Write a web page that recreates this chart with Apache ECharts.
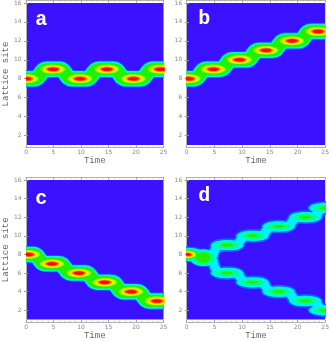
<!DOCTYPE html>
<html>
<head>
<meta charset="utf-8">
<style>html,body{margin:0;padding:0;background:#fff}#main{width:332px;height:341px}</style>
<script src="https://cdn.jsdelivr.net/npm/echarts@6/dist/echarts.min.js"></script>
</head>
<body>
<div id="main"></div>
<script>
// ridge of the wave packet in each panel: [time, lattice site]
var aRidge = [[0,8],[1.5,8],[2.1,8.13],[2.6,8.5],[3.1,8.87],[3.7,9],[6.2,9],[6.7,8.87],[7.2,8.5],[7.7,8.13],[8.3,8],[11.1,8],[11.6,8.13],[12.1,8.5],[12.6,8.87],[13.2,9],[16,9],[16.5,8.87],[17,8.5],[17.5,8.13],[18.1,8],[20.9,8],[21.4,8.13],[21.9,8.5],[22.4,8.87],[23,9],[25,9]];
var bRidge = [[0,8],[1.4,8],[1.9,8.13],[2.4,8.5],[2.9,8.87],[3.5,9],[6,9],[6.6,9.13],[7.1,9.5],[7.6,9.87],[8.2,10],[10.8,10],[11.4,10.13],[11.9,10.5],[12.4,10.87],[13,11],[15.5,11],[16.1,11.13],[16.6,11.5],[17.1,11.87],[17.7,12],[20.2,12],[20.8,12.13],[21.3,12.5],[21.8,12.87],[22.4,13],[25,13]];
var cRidge = [[0,8],[1.4,8],[1.9,7.87],[2.4,7.5],[2.9,7.13],[3.5,7],[6,7],[6.6,6.87],[7.1,6.5],[7.6,6.13],[8.2,6],[10.8,6],[11.4,5.87],[11.9,5.5],[12.4,5.13],[13,5],[15.5,5],[16.1,4.87],[16.6,4.5],[17.1,4.13],[17.7,4],[20.2,4],[20.8,3.87],[21.3,3.5],[21.8,3.13],[22.4,3],[25,3]];
var dUpper = [[0,8],[1.4,7.95],[2.6,7.65],[4,7.6],[4.7,7.9],[5.1,8.5],[5.7,8.95],[6.5,9],[8.7,9],[9.2,9.13],[9.7,9.5],[10.2,9.87],[10.7,10],[13.3,10],[13.8,10.13],[14.3,10.5],[14.8,10.87],[15.3,11],[18,11],[18.5,11.13],[19,11.5],[19.5,11.87],[20,12],[22.6,12],[23.2,12.2],[23.8,12.6],[24.4,12.95],[25,13]];
var dLower = [[4,7.6],[4.7,7.3],[5.1,6.6],[5.7,6.05],[6.5,6],[8.7,6],[9.2,5.87],[9.7,5.5],[10.2,5.13],[10.7,5],[13.3,5],[13.8,4.87],[14.3,4.5],[14.8,4.13],[15.3,4],[18,4],[18.5,3.87],[19,3.5],[19.5,3.13],[20,3],[22.6,3],[23.2,2.8],[23.8,2.4],[24.4,2.05],[25,2]];

// density maxima: [time, lattice site]
var aPeaks = [[0,8],[4.9,9],[9.8,8],[14.7,9],[19.5,8],[24.4,9]];
var bPeaks = [[0.3,8],[4.8,9],[9.5,10],[14.3,11],[19,12],[23.7,13]];
var cPeaks = [[0.3,8],[4.7,7],[9.6,6],[14.3,5],[19.1,4],[23.8,3]];
var dPeaks = [[7.3,9],[11.9,10],[16.6,11],[21.4,12],[25,13],[7.3,6],[11.9,5],[16.6,4],[21.4,3],[25,2]];
var dStart = [[0.2,8]];
var dMiddle = [[3,7.65]];

// contour half extents of one maximum: [half time, half site]
var limeSize = [2.2,0.47];
var yellowSize = [1.75,0.38];
var orangeSize = [1.35,0.28];
var redSize = [1.0,0.19];

var xTicks = [0,5,10,15,20,25];
var yTicks = [2,4,6,8,10,12,14,16];
var panelLetters = ['a','b','c','d'];

var BG = '#3a12ff';
var C_BLUE = '#0068ff', C_CYAN = '#00f0ff', C_AQUA = '#00ff90', C_GREEN = '#22f000';
var C_LIME = '#a0ff00', C_YELLOW = '#ffee00', C_ORANGE = '#ff8a00', C_RED = '#ff0a00';

var myChart = echarts.init(document.getElementById('main'), null, {renderer: 'canvas'});

var panels = [
    {left: 21.7, top: 2.7, ridges: [aRidge], peaks: aPeaks, letter: [13.5, 7]},
    {left: 186.7, top: 2.7, ridges: [bRidge], peaks: bPeaks, letter: [11.5, 6]},
    {left: 21.7, top: 180, ridges: [cRidge], peaks: cPeaks, letter: [13.5, 9]},
    {left: 186.7, top: 180, ridges: [dUpper, dLower], peaks: dPeaks, letter: [11.5, 6]}
];
var PW = 141.8, PH = 142.3;

function blobs(points, size) {
    return points.map(function(p) { return [p[0], p[1], size[0], size[1]]; });
}
function drawEllipse(params, api) {
    var c = api.coord([api.value(0), api.value(1)]);
    var s = api.size([api.value(2), api.value(3)]);
    return {type: 'ellipse', shape: {cx: c[0], cy: c[1], rx: s[0], ry: s[1]}, style: {fill: api.visual('color')}};
}

var grids = [], xAxes = [], yAxes = [], series = [], titles = [];
var frame = {show: true, lineStyle: {color: '#b0b0b0', width: 1}};
var order = 3; // later contour levels sit on top
panels.forEach(function(p, i) {
    grids.push({left: p.left, top: p.top, width: PW, height: PH, show: true, backgroundColor: BG, borderWidth: 0});
    [0, 1].forEach(function(side) {
        xAxes.push({
            type: 'value', gridIndex: i, min: 0, max: 25, interval: 5,
            position: side ? 'top' : 'bottom', offset: 2.5,
            name: side ? '' : 'Time', nameLocation: 'middle', nameGap: 7,
            nameTextStyle: {fontFamily: 'Liberation Mono', fontSize: 9, color: '#666'},
            axisLine: frame,
            axisTick: {inside: true, length: 2, lineStyle: {color: '#999'}},
            minorTick: {show: true, splitNumber: 5, length: 1, lineStyle: {color: '#bbb'}},
            axisLabel: {show: !side, fontSize: 6, margin: 2, color: '#888', fontFamily: 'DejaVu Sans', customValues: xTicks},
            splitLine: {show: false}
        });
        yAxes.push({
            type: 'value', gridIndex: i, min: 1, max: 16,
            position: side ? 'right' : 'left', offset: 2.5,
            name: (!side && i % 2 === 0) ? 'Lattice site' : '', nameLocation: 'middle', nameGap: 9,
            nameTextStyle: {fontFamily: 'Liberation Mono', fontSize: 9, color: '#666'},
            axisLine: frame,
            axisTick: {inside: true, length: 2, lineStyle: {color: '#999'}, customValues: yTicks},
            axisLabel: {show: !side, fontSize: 6, margin: 2, color: '#888', fontFamily: 'DejaVu Sans', customValues: yTicks},
            splitLine: {show: false}
        });
    });
    var xi = i * 2, yi = i * 2;
    var isD = i === 3;
    var widths = isD ? [[C_BLUE, 12.5], [C_CYAN, 9]] : [[C_BLUE, 17], [C_CYAN, 15.4], [C_AQUA, 13.8], [C_GREEN, 12]];
    function addRidges(w) {
        p.ridges.forEach(function(r) {
            series.push({
                type: 'line', xAxisIndex: xi, yAxisIndex: yi, data: r, smooth: 0.3, showSymbol: false, z: order++,
                lineStyle: {color: w[0], width: w[1], cap: 'butt', join: 'round'}, clip: true, silent: true
            });
        });
    }
    function addBlobs(points, size, color) {
        series.push({
            type: 'custom', xAxisIndex: xi, yAxisIndex: yi, coordinateSystem: 'cartesian2d', z: order++,
            renderItem: drawEllipse, data: blobs(points, size), clip: true, silent: true,
            itemStyle: {color: color}, encode: {x: 0, y: 1}
        });
    }
    if (isD) {
        addBlobs(dStart, [3.2,0.85], C_BLUE);
        addBlobs(dMiddle, [2.6,1.0], C_BLUE);
        addBlobs(dPeaks, [3.2,0.74], C_BLUE);
        addRidges(widths[0]);
        addBlobs(dStart, [3,0.72], C_CYAN);
        addBlobs(dMiddle, [2.4,0.9], C_CYAN);
        addBlobs(dPeaks, [2.9,0.56], C_CYAN);
        addRidges(widths[1]);
        addBlobs(dPeaks, [2.2,0.38], C_AQUA);
        addBlobs(dPeaks, [1.1,0.17], C_GREEN);
        addBlobs(dStart, [2.6,0.62], C_AQUA);
        addBlobs(dMiddle, [2.1,0.78], C_AQUA);
        addBlobs(dMiddle, [1.3,0.55], C_GREEN);
        addBlobs(dStart, [1.9,0.5], C_GREEN);
        addBlobs(dStart, [1.5,0.4], C_LIME);
        addBlobs(dStart, [1.2,0.32], C_YELLOW);
        addBlobs(dStart, [0.9,0.24], C_ORANGE);
        addBlobs(dStart, [0.6,0.14], C_RED);
    } else {
        widths.forEach(addRidges);
        addBlobs(p.peaks, limeSize, C_LIME);
        addBlobs(p.peaks, yellowSize, C_YELLOW);
        addBlobs(p.peaks, orangeSize, C_ORANGE);
        addBlobs(p.peaks, redSize, C_RED);
    }
    titles.push({
        text: panelLetters[i], left: p.left + p.letter[0], top: p.top + p.letter[1],
        padding: 0,
        textStyle: {fontFamily: 'Liberation Mono', fontWeight: 'bold', fontSize: 20, color: '#fff'}
    });
});

var option = {
    backgroundColor: '#fff',
    animation: false,
    title: titles,
    grid: grids,
    xAxis: xAxes,
    yAxis: yAxes,
    series: series
};
myChart.setOption(option);
</script>
</body>
</html>
